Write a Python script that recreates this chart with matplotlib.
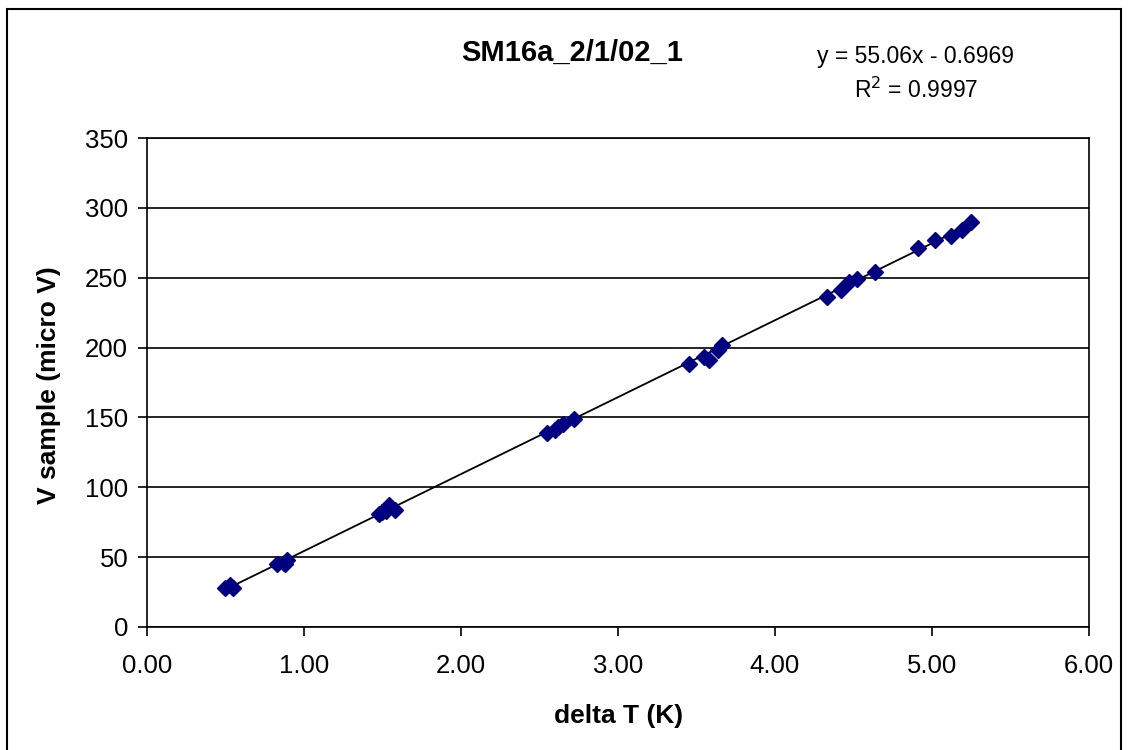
import numpy as np
import matplotlib.pyplot as plt
from matplotlib.patches import Rectangle

plt.rcParams['font.family'] = ['Liberation Sans', 'DejaVu Sans']

# delta T (K) and V sample (micro V)
delta_t = [0.50, 0.53, 0.55, 0.83, 0.87, 0.88, 0.89,
           1.48, 1.50, 1.52, 1.54, 1.58,
           2.55, 2.60, 2.62, 2.65, 2.72,
           3.45, 3.55, 3.58, 3.64, 3.66,
           4.33, 4.42, 4.47, 4.52, 4.64,
           4.91, 5.02, 5.12, 5.19, 5.25]
v_sample = [28, 30, 28, 45, 46, 45, 48,
            81, 82, 83, 87, 84,
            139, 141, 143, 145, 149,
            188, 193, 191, 198, 202,
            236, 241, 247, 249, 254,
            271, 277, 280, 284, 290]
slope, intercept = 55.06, -0.6969

fig = plt.figure(figsize=(11.28, 7.5), dpi=100)
fig.patches.append(Rectangle((0.006, -0.01), 0.988, 0.998, transform=fig.transFigure,
                             fill=False, edgecolor='black', linewidth=1.5))
ax = fig.add_axes([0.1303, 0.164, 0.835, 0.652])

ax.set_axisbelow(True)
ax.grid(axis='y', color='black', linewidth=1.2)
xs = np.array([min(delta_t), max(delta_t)])
ax.plot(xs, slope * xs + intercept, color='black', linewidth=1.3, zorder=2)
ax.plot(delta_t, v_sample, linestyle='none', marker='D', markersize=8,
        color='#000080', zorder=3)

ax.set_xlim(0, 6)
ax.set_ylim(0, 350)
ax.set_xticks(np.arange(0, 7, 1))
ax.set_xticklabels(['%.2f' % v for v in np.arange(0, 7, 1)])
ax.set_yticks(np.arange(0, 351, 50))
ax.tick_params(labelsize=18.5, direction='out', length=6.5, width=1.2)
ax.tick_params(axis='x', pad=13)
ax.tick_params(axis='y', pad=7)
for s in ax.spines.values():
    s.set_linewidth(1.2)

fig.text(0.548, 0.045, 'delta T (K)', fontsize=19, fontweight='bold', ha='center', va='center')
fig.text(0.043, 0.487, 'V sample (micro V)', fontsize=19, fontweight='bold',
         ha='center', va='center', rotation=90)
fig.text(0.507, 0.930, 'SM16a_2/1/02_1', fontsize=21, fontweight='bold', ha='center', va='center')
fig.text(0.812, 0.924, 'y = 55.06x - 0.6969', fontsize=16.5, ha='center', va='center')
fig.text(0.812, 0.880, r'R$^2$ = 0.9997', fontsize=16.5, ha='center', va='center')

fig.savefig('out.png', dpi=100)
